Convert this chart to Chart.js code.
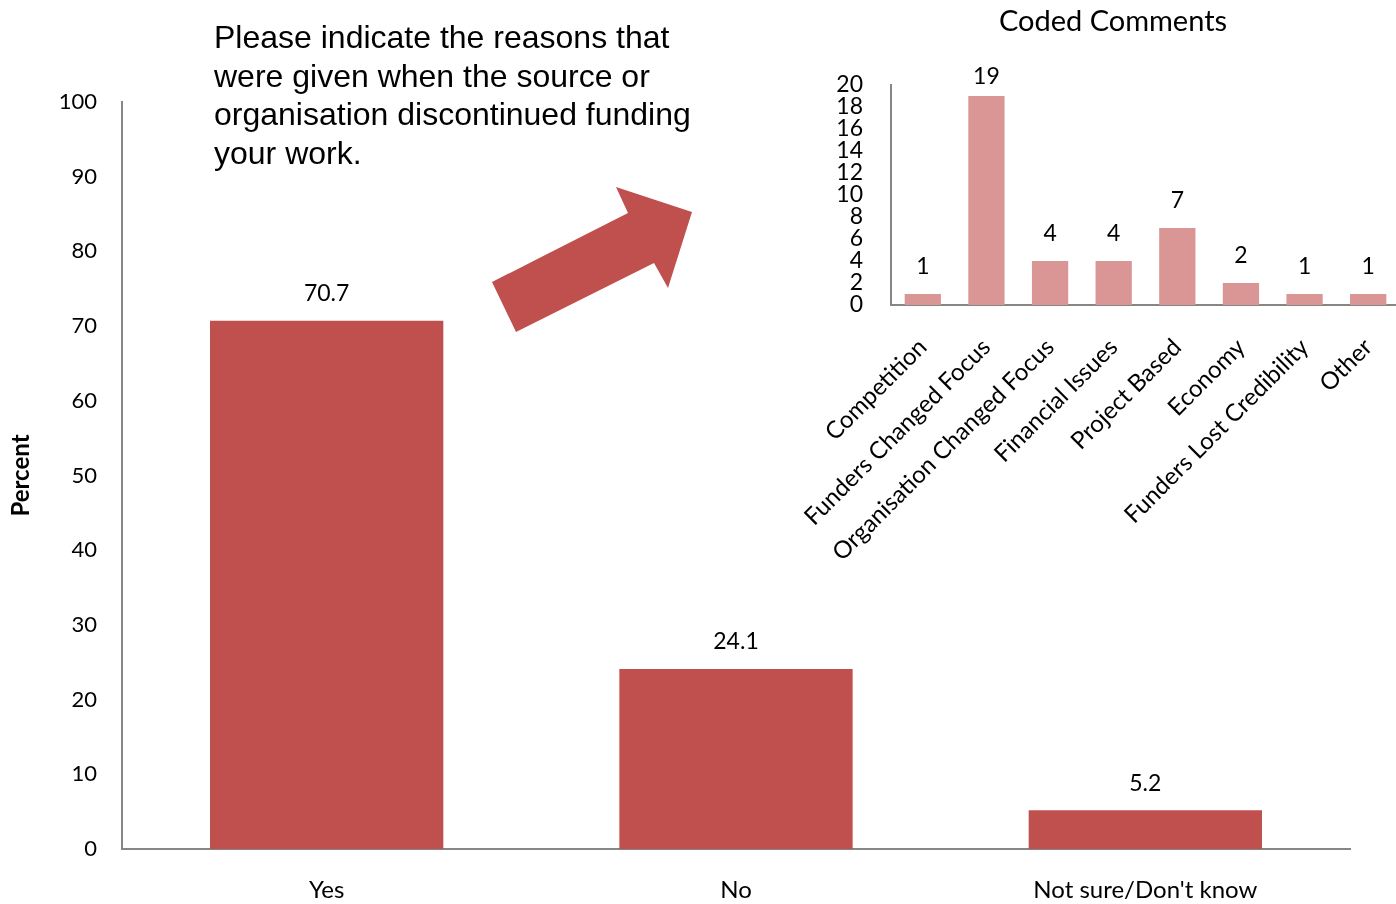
<!DOCTYPE html>
<html>
<head>
<meta charset="utf-8">
<script src="https://cdn.jsdelivr.net/npm/chart.js@4/dist/chart.umd.min.js"></script>
<style>
  html, body { margin: 0; padding: 0; background: #fff; overflow: hidden; }
  body { width: 1396px; height: 904px; position: relative; }
  #main { position: absolute; left: 0; top: 0; }
  #inset { position: absolute; left: 700px; top: 0; }
  #question {
    position: absolute; left: 214px; top: 18px;
    font-family: "Liberation Sans", Arial, sans-serif;
    font-size: 32px; line-height: 38.5px; color: #000;
    white-space: nowrap;
  }
  #arrow { position: absolute; left: 0; top: 0; pointer-events: none; }
</style>
</head>
<body>
<canvas id="main" width="1396" height="904"></canvas>
<canvas id="inset" width="700" height="600"></canvas>
<div id="question">Please indicate the reasons that<br>were given when the source or<br>organisation discontinued funding<br>your work.</div>
<svg id="arrow" width="1396" height="904">
  <polygon points="492,282 516,332 654,263 668,288 692,212 616,187 628,213" fill="#C0504D"/>
</svg>
<script>
// Main question: answer shares (percent)
const answerLabels = ['Yes', 'No', "Not sure/Don't know"];
const answerPercents = [70.7, 24.1, 5.2];
const percentTicks = [0, 10, 20, 30, 40, 50, 60, 70, 80, 90, 100];

// Coded comments: reasons given (counts)
const reasonLabels = ['Competition', 'Funders Changed Focus', 'Organisation Changed Focus',
  'Financial Issues', 'Project Based', 'Economy', 'Funders Lost Credibility', 'Other'];
const reasonCounts = [1, 19, 4, 4, 7, 2, 1, 1];
const countTicks = [0, 2, 4, 6, 8, 10, 12, 14, 16, 18, 20];

const FONT = 'Lato, "Open Sans", sans-serif';
const AXIS_GREY = '#868686';

// Writes each bar's value just above it
const valueLabels = {
  id: 'valueLabels',
  afterDatasetsDraw(chart, args, opts) {
    const ctx = chart.ctx;
    const meta = chart.getDatasetMeta(0);
    const data = chart.data.datasets[0].data;
    ctx.save();
    ctx.font = opts.size + 'px ' + FONT;
    ctx.fillStyle = '#000';
    ctx.textAlign = 'center';
    ctx.textBaseline = 'middle';
    meta.data.forEach((bar, i) => {
      const y = Math.max(bar.y - opts.offset, chart.chartArea.top - opts.minGap);
      ctx.fillText(String(data[i]), bar.x, y);
    });
    ctx.restore();
  }
};

// Fixed axis sizes; labels may spill past the plot edges without shrinking it
function fixHeight(h) {
  return scale => { scale.height = h; scale.paddingLeft = 0; scale.paddingRight = 0; };
}
function fixWidth(w) {
  return scale => { scale.width = w; scale.paddingTop = 0; scale.paddingBottom = 0; };
}

new Chart(document.getElementById('main'), {
  type: 'bar',
  data: {
    labels: answerLabels,
    datasets: [{
      data: answerPercents,
      backgroundColor: '#C0504D',
      borderWidth: 0,
      barPercentage: 0.57,
      categoryPercentage: 1
    }]
  },
  plugins: [valueLabels],
  options: {
    responsive: false,
    animation: false,
    layout: { autoPadding: false, padding: { top: 102, right: 46, left: 0, bottom: 0 } },
    plugins: {
      legend: { display: false },
      tooltip: { enabled: false },
      valueLabels: { size: 23, offset: 27, minGap: 100 }
    },
    scales: {
      x: {
        grid: { display: false, drawTicks: false },
        border: { display: true, color: AXIS_GREY, width: 2 },
        ticks: { color: '#000', font: { family: FONT, size: 24 }, padding: 27 },
        afterFit: fixHeight(55)
      },
      y: {
        min: 0, max: 100,
        afterBuildTicks(scale) { scale.ticks = percentTicks.map(v => ({ value: v })); },
        grid: { display: false, drawTicks: false },
        border: { display: true, color: AXIS_GREY, width: 2 },
        ticks: { color: '#000', font: { family: FONT, size: 22 }, padding: 25 },
        title: {
          display: true, text: 'Percent', color: '#000',
          font: { family: FONT, size: 24, weight: 'bold' },
          padding: { top: 7, bottom: 0 }
        },
        afterFit: fixWidth(122)
      }
    }
  }
});

new Chart(document.getElementById('inset'), {
  type: 'bar',
  data: {
    labels: reasonLabels,
    datasets: [{
      data: reasonCounts,
      backgroundColor: '#D99694',
      borderWidth: 0,
      barPercentage: 0.57,
      categoryPercentage: 1
    }]
  },
  plugins: [valueLabels],
  options: {
    responsive: false,
    animation: false,
    layout: { autoPadding: false, padding: { left: 126, top: 0, right: 0, bottom: 0 } },
    plugins: {
      legend: { display: false },
      tooltip: { enabled: false },
      title: {
        display: true, text: 'Coded Comments', color: '#000',
        font: { family: FONT, size: 29, weight: 'normal', lineHeight: 1.2 },
        padding: { top: 4, bottom: 46.2 }
      },
      valueLabels: { size: 23, offset: 27, minGap: 8 }
    },
    scales: {
      x: {
        grid: { display: false, drawTicks: false },
        border: { display: true, color: AXIS_GREY, width: 2 },
        ticks: {
          color: '#000', font: { family: FONT, size: 24 },
          minRotation: 45, maxRotation: 45, autoSkip: false, padding: 28
        },
        afterFit: fixHeight(295)
      },
      y: {
        min: 0, max: 20,
        afterBuildTicks(scale) { scale.ticks = countTicks.map(v => ({ value: v })); },
        grid: { display: false, drawTicks: false },
        border: { display: true, color: AXIS_GREY, width: 2 },
        ticks: { color: '#000', font: { family: FONT, size: 23 }, padding: 28, autoSkip: false },
        afterFit: fixWidth(65)
      }
    }
  }
});
</script>
</body>
</html>
